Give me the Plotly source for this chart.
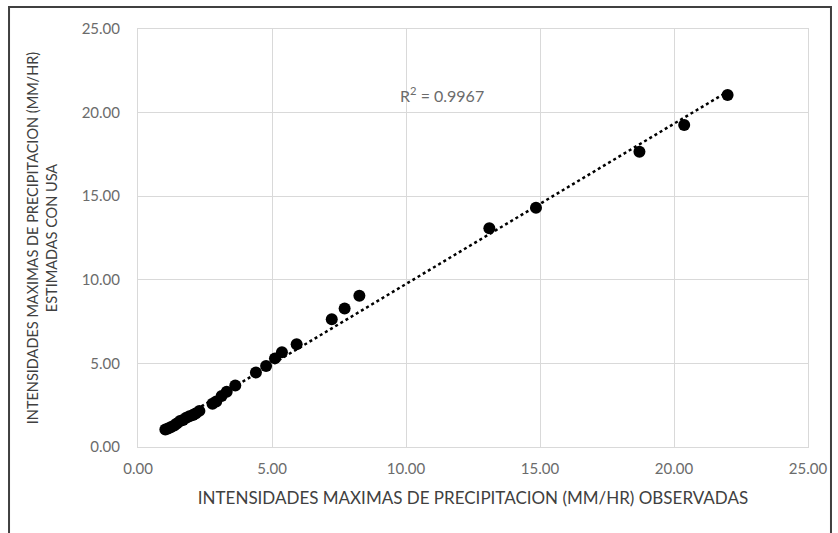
import numpy as np
import plotly.graph_objects as go

observed = [1.02, 1.12, 1.22, 1.35, 1.45, 1.57, 1.68, 1.80, 1.92, 2.05, 2.15, 2.29, 2.78, 2.92, 3.12, 3.31, 3.63, 4.40, 4.78, 5.11, 5.37, 5.92, 7.23, 7.71, 8.26, 13.11, 14.85, 18.71, 20.38, 22.00]
estimated = [1.05, 1.10, 1.18, 1.28, 1.40, 1.55, 1.62, 1.75, 1.84, 1.92, 2.01, 2.16, 2.58, 2.72, 3.05, 3.30, 3.68, 4.45, 4.85, 5.30, 5.66, 6.15, 7.64, 8.29, 9.05, 13.08, 14.31, 17.66, 19.26, 21.05]
tick_vals = [0, 5, 10, 15, 20, 25]
tick_text = ["0.00", "5.00", "10.00", "15.00", "20.00", "25.00"]
r2_label = "R<sup>2</sup> = 0.9967"
x_title = "INTENSIDADES MAXIMAS DE PRECIPITACION (MM/HR) OBSERVADAS"
y_title = "INTENSIDADES MAXIMAS DE PRECIPITACION (MM/HR)<br>ESTIMADAS CON USA"

xo = np.array(observed)
ye = np.array(estimated)
slope, intercept = np.polyfit(xo, ye, 1)
trend_x = np.array([xo.min(), xo.max()])
trend_y = slope * trend_x + intercept

FONT = "Lato"
GRAY = "#6b6b6b"
GRID = "#d9d9d9"

fig = go.Figure()
fig.add_trace(go.Scatter(x=trend_x, y=trend_y, mode="lines",
                         line=dict(color="black", width=2.5, dash="dot"),
                         hoverinfo="skip", showlegend=False))
fig.add_trace(go.Scatter(x=observed, y=estimated, mode="markers",
                         marker=dict(color="black", size=12),
                         showlegend=False))

axis_common = dict(range=[0, 25], tickvals=tick_vals, ticktext=tick_text,
                   showgrid=True, gridcolor=GRID, gridwidth=1,
                   zeroline=False, showline=True, linecolor=GRID, linewidth=1,
                   mirror=True, ticks="outside", tickcolor="rgba(0,0,0,0)",
                   tickfont=dict(family=FONT, size=15, color=GRAY))

fig.update_xaxes(**axis_common, ticklen=8,
                 title=dict(text=x_title, standoff=16,
                            font=dict(family=FONT, size=17, color="#404040")))
fig.update_yaxes(**axis_common, ticklen=14,
                 title=dict(text=y_title, standoff=20,
                            font=dict(family=FONT, size=14.5, color="#404040")))

fig.add_annotation(x=0.4537, y=0.873, xref="paper", yref="paper",
                   text=r2_label, showarrow=False,
                   font=dict(family=FONT, size=16, color=GRAY))

fig.add_shape(type="rect", xref="paper", yref="paper",
              x0=-0.1925, x1=1.0343, y0=-0.25, y1=1.0526,
              line=dict(color="#404040", width=2), layer="below")

fig.update_layout(width=838, height=533,
                  margin=dict(l=138, r=30, t=29, b=86),
                  paper_bgcolor="white", plot_bgcolor="white",
                  font=dict(family=FONT))

fig.write_html("out.html")
